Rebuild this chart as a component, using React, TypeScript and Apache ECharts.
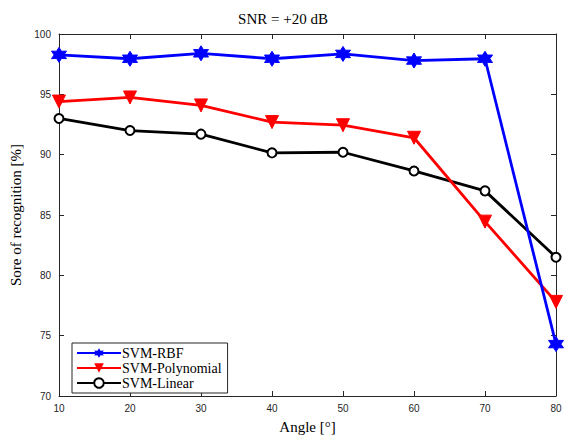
import React, { useEffect, useRef } from "react";
import * as echarts from "echarts";

const angles = [10, 20, 30, 40, 50, 60, 70, 80];
const rbf = [98.27, 97.95, 98.4, 97.95, 98.35, 97.8, 97.95, 74.3];
const poly = [94.4, 94.74, 94.08, 92.7, 92.44, 91.4, 84.45, 77.8];
const linear = [93.0, 92.0, 91.7, 90.15, 90.2, 88.65, 87.0, 81.5];

function starPath(): string {
  const pts: string[] = [];
  for (let i = 0; i < 12; i++) {
    const a = (-90 + i * 30) * (Math.PI / 180);
    const r = i % 2 === 0 ? 10 : 5.6;
    pts.push(`${(10 + r * Math.cos(a)).toFixed(2)},${(10 + r * Math.sin(a)).toFixed(2)}`);
  }
  return "path://M" + pts.join("L") + "Z";
}

export default function App() {
  const ref = useRef<HTMLDivElement>(null);
  useEffect(() => {
    if (!ref.current) return;
    const chart = echarts.init(ref.current, undefined, { renderer: "svg" });
    const axisColor = "#262626";
    const mk = (name: string, data: number[], color: string, symbol: string, size: number, extra: any = {}) => ({
      name,
      type: "line",
      data: angles.map((a, i) => [a, data[i]]),
      lineStyle: { color, width: 2.8 },
      itemStyle: { color, borderColor: color },
      symbol,
      symbolSize: size,
      showAllSymbol: true,
      ...extra,
    });
    chart.setOption({
      animation: false,
      backgroundColor: "#ffffff",
      title: {
        text: "SNR = +20 dB",
        left: "center",
        top: 6,
        textStyle: { fontFamily: "Liberation Serif", fontSize: 15, fontWeight: "normal", color: "#000" },
      },
      grid: { left: 59, right: 10, top: 34, bottom: 33 },
      legend: {
        orient: "vertical",
        left: 72,
        top: 343,
        itemWidth: 44,
        itemHeight: 12,
        itemGap: 1,
        padding: [3, 6, 3, 4],
        borderColor: "#262626",
        borderWidth: 1,
        backgroundColor: "#fff",
        textStyle: { fontFamily: "Liberation Serif", fontSize: 14, color: "#000", padding: [0, 0, 0, -4] },
        data: ["SVM-RBF", "SVM-Polynomial", "SVM-Linear"],
      },
      xAxis: [
        {
          type: "value",
          min: 10,
          max: 80,
          interval: 10,
          name: "Angle [°]",
          nameLocation: "middle",
          nameGap: 23,
          nameTextStyle: { fontFamily: "Liberation Serif", fontSize: 15, color: "#000" },
          axisLine: { show: true, lineStyle: { color: axisColor, width: 1 } },
          axisTick: { show: true, inside: true, length: 5, lineStyle: { color: axisColor } },
          axisLabel: { fontFamily: "Liberation Sans", fontSize: 10, color: axisColor, margin: 7 },
          splitLine: { show: false },
        },
        {
          type: "value",
          position: "top",
          min: 10,
          max: 80,
          interval: 10,
          axisLine: { show: true, onZero: false, lineStyle: { color: axisColor, width: 1 } },
          axisTick: { show: true, inside: true, length: 5, lineStyle: { color: axisColor } },
          axisLabel: { show: false },
          splitLine: { show: false },
        },
      ],
      yAxis: [
        {
          type: "value",
          min: 70,
          max: 100,
          interval: 5,
          name: "Sore of recognition [%]",
          nameLocation: "middle",
          nameGap: 31,
          nameTextStyle: { fontFamily: "Liberation Serif", fontSize: 15, color: "#000" },
          axisLine: { show: true, lineStyle: { color: axisColor, width: 1 } },
          axisTick: { show: true, inside: true, length: 5, lineStyle: { color: axisColor } },
          axisLabel: { fontFamily: "Liberation Sans", fontSize: 10, color: axisColor, margin: 8 },
          splitLine: { show: false },
        },
        {
          type: "value",
          position: "right",
          min: 70,
          max: 100,
          interval: 5,
          axisLine: { show: true, onZero: false, lineStyle: { color: axisColor, width: 1 } },
          axisTick: { show: true, inside: true, length: 5, lineStyle: { color: axisColor } },
          axisLabel: { show: false },
          splitLine: { show: false },
        },
      ],
      series: [
        mk("SVM-Linear", linear, "#000000", "emptyCircle", 9, {
          itemStyle: { color: "#000", borderColor: "#000", borderWidth: 2.5 },
          z: 2,
        }),
        mk("SVM-Polynomial", poly, "#ff0000", "triangle", 13, { symbolRotate: 180, z: 3 }),
        mk("SVM-RBF", rbf, "#0000ff", starPath(), 15, { z: 4 }),
      ],
    });
    return () => chart.dispose();
  }, []);
  return (
    <div
      ref={ref}
      style={{ position: "fixed", left: 0, top: 0, width: 566, height: 439 }}
    />
  );
}
